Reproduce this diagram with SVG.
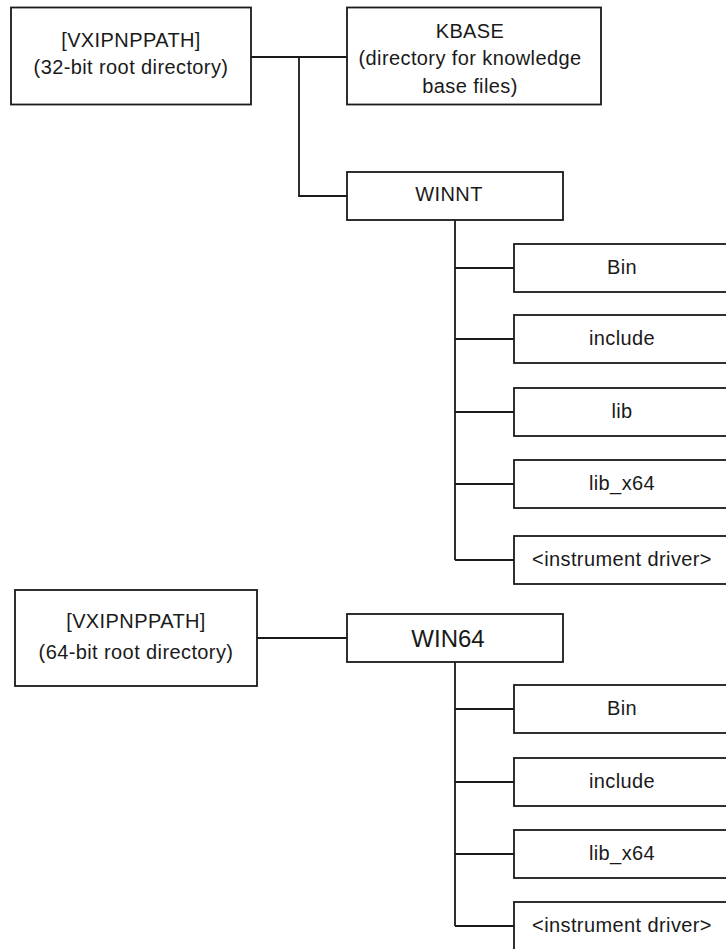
<svg xmlns="http://www.w3.org/2000/svg" width="726" height="949" viewBox="0 0 726 949">
<style>
.box{fill:#fff;stroke:#1a1a1a;stroke-width:1.8}
.ln{fill:none;stroke:#1a1a1a;stroke-width:1.8}
text{font-family:"Liberation Sans",Arial,sans-serif;font-size:20px;fill:#1a1a1a;text-anchor:middle;letter-spacing:0.4px}
.big{font-size:24px;letter-spacing:0}
</style>
<rect width="726" height="949" fill="#fff"/>
<g id="connectors">
<path class="ln" d="M251,57H347M299,57V196H347"/>
<path class="ln" d="M455,220V560M455,268H514M455,339H514M455,412H514M455,484H514M455,560H514"/>
<path class="ln" d="M257,638H347"/>
<path class="ln" d="M455,662V926M455,709H514M455,782H514M455,854H514M455,926H514"/>
</g>
<g id="root32"><rect class="box" x="11" y="7.5" width="240" height="97"/><text x="131" y="47">[VXIPNPPATH]</text><text x="131" y="74">(32-bit root directory)</text></g>
<g id="kbase"><rect class="box" x="347" y="7.5" width="254" height="97"/><text x="470" y="38">KBASE</text><text x="470" y="65">(directory for knowledge</text><text x="470" y="93">base files)</text></g>
<g id="winnt"><rect class="box" x="347" y="172" width="216" height="48"/><text x="449" y="201">WINNT</text></g>
<g id="bin32"><rect class="box" x="514" y="244" width="216" height="48"/><text x="622" y="273.5">Bin</text></g>
<g id="include32"><rect class="box" x="514" y="315" width="216" height="48"/><text x="622" y="344.5">include</text></g>
<g id="lib32"><rect class="box" x="514" y="388" width="216" height="48"/><text x="622" y="417.5">lib</text></g>
<g id="libx64_32"><rect class="box" x="514" y="460" width="216" height="48"/><text x="622" y="489.5">lib_x64</text></g>
<g id="drv32"><rect class="box" x="514" y="536" width="216" height="48"/><text x="622" y="565.5">&lt;instrument driver&gt;</text></g>
<g id="root64"><rect class="box" x="15" y="590" width="242" height="96"/><text x="136" y="628">[VXIPNPPATH]</text><text x="136" y="659">(64-bit root directory)</text></g>
<g id="win64"><rect class="box" x="347" y="614" width="216" height="48"/><text class="big" x="448" y="647">WIN64</text></g>
<g id="bin64"><rect class="box" x="514" y="685" width="216" height="48"/><text x="622" y="714.5">Bin</text></g>
<g id="include64"><rect class="box" x="514" y="758" width="216" height="48"/><text x="622" y="787.5">include</text></g>
<g id="libx64_64"><rect class="box" x="514" y="830" width="216" height="48"/><text x="622" y="859.5">lib_x64</text></g>
<g id="drv64"><rect class="box" x="514" y="902" width="216" height="48"/><text x="622" y="931.5">&lt;instrument driver&gt;</text></g>
</svg>
